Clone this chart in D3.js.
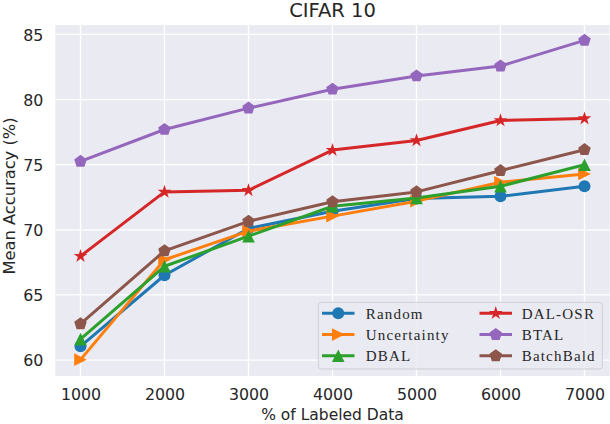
<!DOCTYPE html>
<html>
<head>
<meta charset="utf-8">
<script src="https://cdn.jsdelivr.net/npm/d3@7"></script>
<style>
  html, body { margin: 0; padding: 0; background: #ffffff; }
  svg { display: block; }
</style>
</head>
<body>
<svg id="chart" width="610" height="424"></svg>
<script>
// ---- data ----
const labeled = [1000, 2000, 3000, 4000, 5000, 6000, 7000];
const random      = [61.05, 66.51, 70.10, 71.43, 72.40, 72.57, 73.34];
const uncertainty = [60.03, 67.70, 69.90, 71.05, 72.20, 73.65, 74.29];
const dbal        = [61.61, 67.20, 69.51, 71.81, 72.45, 73.34, 75.00];
const dalOsr      = [67.98, 72.91, 73.03, 76.12, 76.86, 78.39, 78.54];
const btal        = [75.25, 77.70, 79.34, 80.79, 81.81, 82.57, 84.54];
const batchBald   = [62.78, 68.38, 70.65, 72.15, 72.91, 74.54, 76.15];
const xTicks = [1000, 2000, 3000, 4000, 5000, 6000, 7000];
const yTicks = [60, 65, 70, 75, 80, 85];
const seriesNames = ["Random", "Uncertainty", "DBAL", "DAL-OSR", "BTAL", "BatchBald"];
const seriesValues = [random, uncertainty, dbal, dalOsr, btal, batchBald];
const seriesColors = ["#1f77b4", "#ff7f0e", "#2ca02c", "#d62728", "#9467bd", "#8c564b"];
const seriesMarkers = ["circle", "triRight", "triUp", "star", "pentagon", "pentagon"];
const titleText = "CIFAR 10";
const xLabel = "% of Labeled Data";
const yLabel = "Mean Accuracy (%)";

// ---- layout ----
const plot = { left: 55.3, right: 609.7, top: 25, bottom: 376 };
const textColor = "#262626";
const sansFont = "DejaVu Sans, sans-serif";
const serifFont = "Liberation Serif, serif";

const svg = d3.select("#chart");

const x = d3.scaleLinear().domain([700, 7300]).range([plot.left, plot.right]);
const y = d3.scaleLinear().domain([58.775, 85.725]).range([plot.bottom, plot.top]);

// marker shape generator (radius r), centered at 0,0
function markerPath(type, r) {
  const pts = [];
  if (type === "circle") {
    return `M${r},0A${r},${r} 0 1,1 ${-r},0A${r},${r} 0 1,1 ${r},0Z`;
  } else if (type === "triUp") {
    pts.push([0, -r], [-r, r], [r, r]);
  } else if (type === "triRight") {
    pts.push([r, 0], [-r, -r], [-r, r]);
  } else if (type === "star") {
    const ri = r * 0.381966;
    for (let i = 0; i < 10; i++) {
      const a = -Math.PI / 2 + i * Math.PI / 5;
      const rr = i % 2 === 0 ? r : ri;
      pts.push([rr * Math.cos(a), rr * Math.sin(a)]);
    }
  } else if (type === "pentagon") {
    for (let i = 0; i < 5; i++) {
      const a = -Math.PI / 2 + i * 2 * Math.PI / 5;
      pts.push([r * Math.cos(a), r * Math.sin(a)]);
    }
  }
  return "M" + pts.map(p => p[0].toFixed(2) + "," + p[1].toFixed(2)).join("L") + "Z";
}
const markerR = { circle: 6, triUp: 6.3, triRight: 6.3, star: 7.2, pentagon: 6.6 };

// background
svg.append("rect")
  .attr("x", plot.left).attr("y", plot.top)
  .attr("width", plot.right - plot.left).attr("height", plot.bottom - plot.top)
  .attr("fill", "#eaeaf2");

// grid
const grid = svg.append("g");
grid.selectAll("line.gx").data(xTicks).enter().append("line")
  .attr("x1", d => x(d)).attr("x2", d => x(d))
  .attr("y1", plot.top).attr("y2", plot.bottom)
  .attr("stroke", "#ffffff").attr("stroke-width", 1.3);
grid.selectAll("line.gy").data(yTicks).enter().append("line")
  .attr("y1", d => y(d)).attr("y2", d => y(d))
  .attr("x1", plot.left).attr("x2", plot.right)
  .attr("stroke", "#ffffff").attr("stroke-width", 1.3);

// axes (tick labels only) via d3 axes
const xAxis = svg.append("g").attr("transform", `translate(0,${plot.bottom})`)
  .call(d3.axisBottom(x).tickValues(xTicks).tickSize(0).tickPadding(0).tickFormat(d3.format("d")));
xAxis.select(".domain").remove();
xAxis.selectAll("text")
  .attr("y", 23.5).attr("dy", null)
  .attr("font-family", sansFont).attr("font-size", 15.8).attr("fill", textColor);

const yAxis = svg.append("g").attr("transform", `translate(${plot.left},0)`)
  .call(d3.axisLeft(y).tickValues(yTicks).tickSize(0).tickPadding(12).tickFormat(d3.format("d")));
yAxis.select(".domain").remove();
yAxis.selectAll("text")
  .attr("dy", "0.36em")
  .attr("font-family", sansFont).attr("font-size", 15.8).attr("fill", textColor);

// series
const lineGen = d3.line().x((d, i) => x(labeled[i])).y(d => y(d));
seriesValues.forEach((vals, si) => {
  const g = svg.append("g");
  g.append("path").datum(vals)
    .attr("d", lineGen)
    .attr("fill", "none").attr("stroke", seriesColors[si])
    .attr("stroke-width", 3).attr("stroke-linejoin", "round");
  g.selectAll("path.m").data(vals).enter().append("path")
    .attr("class", "m")
    .attr("transform", (d, i) => `translate(${x(labeled[i])},${y(d)})`)
    .attr("d", markerPath(seriesMarkers[si], markerR[seriesMarkers[si]]))
    .attr("fill", seriesColors[si]);
});

// title & labels
svg.append("text").attr("x", (plot.left + plot.right) / 2).attr("y", 16.5)
  .attr("text-anchor", "middle").attr("font-family", sansFont).attr("font-size", 19.5)
  .attr("fill", textColor).text(titleText);
svg.append("text").attr("x", (plot.left + plot.right) / 2).attr("y", 419.5)
  .attr("text-anchor", "middle").attr("font-family", sansFont).attr("font-size", 15.5)
  .attr("fill", textColor).text(xLabel);
svg.append("text").attr("transform", "translate(14.5,196) rotate(-90)")
  .attr("text-anchor", "middle").attr("font-family", sansFont).attr("font-size", 16.3)
  .attr("fill", textColor).text(yLabel);

// legend
const legend = { x: 318.3, y: 302.3, w: 284, h: 66.7, rowY: [313.3, 334.6, 355.8],
  colLine: [322, 479.5], lineLen: 32.5, colText: [365.7, 521.7] };
const lg = svg.append("g");
lg.append("rect").attr("x", legend.x).attr("y", legend.y)
  .attr("width", legend.w).attr("height", legend.h).attr("rx", 3)
  .attr("fill", "#eaeaf2").attr("fill-opacity", 0.9)
  .attr("stroke", "#cfcfd6").attr("stroke-width", 1);
seriesNames.forEach((name, si) => {
  const col = Math.floor(si / 3), row = si % 3;
  const ly = legend.rowY[row];
  const lx = legend.colLine[col];
  lg.append("line").attr("x1", lx).attr("x2", lx + legend.lineLen)
    .attr("y1", ly).attr("y2", ly)
    .attr("stroke", seriesColors[si]).attr("stroke-width", 3);
  lg.append("path")
    .attr("transform", `translate(${lx + legend.lineLen / 2},${ly})`)
    .attr("d", markerPath(seriesMarkers[si], markerR[seriesMarkers[si]]))
    .attr("fill", seriesColors[si]);
  lg.append("text").attr("x", legend.colText[col]).attr("y", ly)
    .attr("dy", "0.36em")
    .attr("font-family", serifFont).attr("font-size", 15).attr("letter-spacing", 1.2)
    .attr("fill", textColor).text(name);
});
</script>
</body>
</html>
